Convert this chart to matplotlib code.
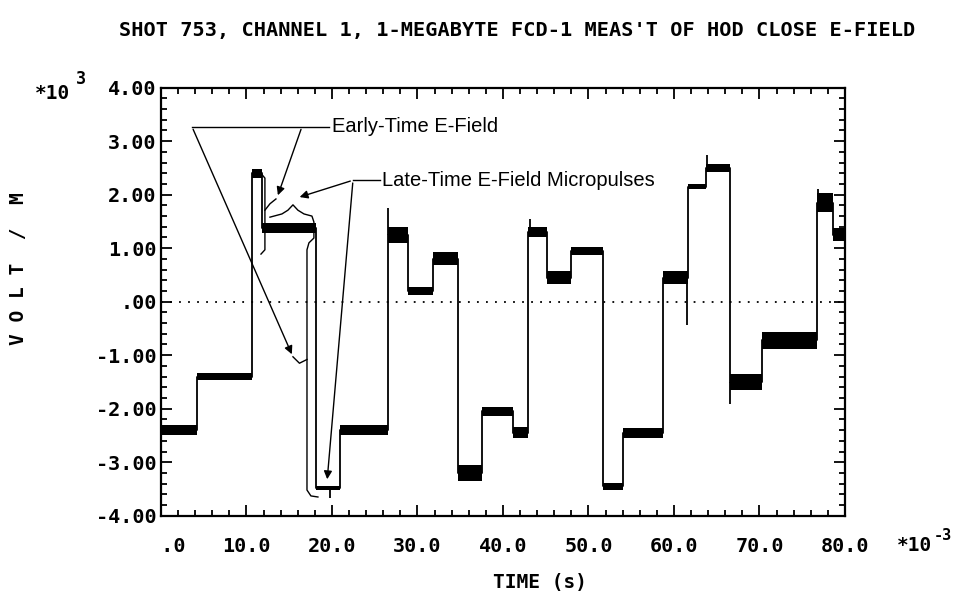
import numpy as np
import matplotlib
matplotlib.use("Agg")
import matplotlib.pyplot as plt

# step record: start time of each plateau (ms), its level (x10^3 V/m), half-width of the noise band
t_start = [0.0, 4.2, 10.6, 11.8, 18.1, 20.9, 26.5, 28.9, 31.8, 34.8, 37.5, 41.2,
           42.9, 45.1, 48.0, 51.7, 54.0, 58.7, 61.6, 63.8, 66.5, 70.3, 76.7, 78.6]
levels = [-2.40, -1.40, 2.40, 1.38, -3.48, -2.40, 1.25, 0.20, 0.80, -3.20, -2.05, -2.45,
          1.30, 0.45, 0.95, -3.45, -2.45, 0.45, 2.15, 2.50, -1.50, -0.72, 1.85, 1.25]
noise = [0.10, 0.07, 0.08, 0.09, 0.04, 0.10, 0.15, 0.08, 0.12, 0.15, 0.08, 0.10,
         0.10, 0.12, 0.08, 0.07, 0.09, 0.12, 0.05, 0.08, 0.15, 0.16, 0.18, 0.12]
t_end = 80.0

# isolated transients (ms, peak value)
spike_t = [19.8, 26.6, 43.2, 61.5, 63.9, 66.6, 76.9]
spike_v = [-3.67, 1.75, 1.55, -0.44, 2.75, -1.92, 2.10]

xticks = [0, 10, 20, 30, 40, 50, 60, 70, 80]
xlabels = ["  .0", "10.0", "20.0", "30.0", "40.0", "50.0", "60.0", "70.0", "80.0"]
yticks = [-4, -3, -2, -1, 0, 1, 2, 3, 4]
ylabels = ["-4.00", "-3.00", "-2.00", "-1.00", ".00", "1.00", "2.00", "3.00", "4.00"]

mono = "DejaVu Sans Mono"
plain_font = ["Liberation Sans", "DejaVu Sans"]

fig = plt.figure(figsize=(9.58, 5.96), dpi=100)
ax = fig.add_axes([0.168, 0.1347, 0.714, 0.7182])

edges = np.array(t_start + [t_end])
lev = np.array(levels + [levels[-1]])
nz = np.array(noise + [noise[-1]])

ax.fill_between(edges, lev - nz, lev + nz, step="post", color="black", lw=0)
ax.step(edges, lev, where="post", color="black", lw=1.3)

idx = np.searchsorted(t_start, spike_t, side="right") - 1
ax.vlines(spike_t, np.array(levels)[idx], spike_v, color="black", lw=1.3)

ax.axhline(0, color="black", lw=1.3, ls=(0, (1, 4)))

# hand-drawn annotation leaders
lk = dict(color="black", lw=1.0)
ap = dict(arrowstyle="-|>", color="black", lw=1.0, mutation_scale=12)
ax.plot([3.63, 19.65], [3.27, 3.27], **lk)
ax.annotate("", xy=(15.44, -1.03), xytext=(3.63, 3.27), arrowprops=ap)
ax.annotate("", xy=(13.57, 1.94), xytext=(16.49, 3.27), arrowprops=ap)
ax.plot([22.46, 25.61], [2.27, 2.27], **lk)
ax.annotate("", xy=(15.91, 1.94), xytext=(22.46, 2.27), arrowprops=ap)
ax.annotate("", xy=(19.42, -3.37), xytext=(22.46, 2.27), arrowprops=ap)

# outline round the early-time spike
ax.plot([11.58, 12.16, 12.16, 11.70], [2.42, 2.31, 0.97, 0.89], **lk)
ax.plot([12.16, 12.75, 13.45], [1.71, 1.83, 1.92], **lk)
# bracket round the late-time micropulse
ax.plot([12.75, 14.15, 14.85, 15.44, 16.02, 16.73, 17.66, 17.89, 17.89, 17.31,
         17.08, 17.08, 17.54, 18.36],
        [1.58, 1.64, 1.71, 1.81, 1.71, 1.64, 1.60, 1.49, 1.19, 1.10,
         0.97, -3.52, -3.63, -3.65], **lk)
ax.plot([15.44, 16.2, 17.08], [-1.03, -1.15, -1.08], **lk)

ax.text(20.0, 3.27, "Early-Time E-Field", family=plain_font, fontsize=14.5, va="center")
ax.text(25.9, 2.27, "Late-Time E-Field Micropulses", family=plain_font, fontsize=14.5,
        va="center")

ax.set_xlim(0, 80)
ax.set_ylim(-4, 4)
ax.set_xticks(xticks)
ax.set_xticklabels(xlabels)
ax.set_yticks(yticks)
ax.set_yticklabels(ylabels)
ax.set_xticks(np.arange(0, 81, 2), minor=True)
ax.set_yticks(np.arange(-4, 4.01, 0.2), minor=True)
ax.tick_params(which="both", direction="in", top=True, right=True, width=1.3)
ax.tick_params(which="major", length=8)
ax.tick_params(which="minor", length=4)
ax.tick_params(axis="x", pad=15)
ax.tick_params(axis="y", pad=3)
for lab in ax.get_xticklabels() + ax.get_yticklabels():
    lab.set_family(mono)
    lab.set_fontweight("bold")
    lab.set_fontsize(14.5)

for sp in ax.spines.values():
    sp.set_linewidth(1.6)

tk = dict(family=mono, fontweight="bold")
fig.text(0.54, 0.948, "SHOT 753, CHANNEL 1, 1-MEGABYTE FCD-1 MEAS'T OF HOD CLOSE E-FIELD",
         fontsize=14.6, ha="center", va="center", **tk)
fig.text(0.564, 0.022, "TIME (s)", fontsize=14, ha="center", va="center", **tk)
fig.text(0.019, 0.55, "V O L T  /  M", fontsize=14, rotation=90, ha="center", va="center",
         **tk)
fig.text(0.036, 0.843, "*10", fontsize=14, ha="left", va="center", **tk)
fig.text(0.079, 0.868, "3", fontsize=12, ha="left", va="center", **tk)
fig.text(0.936, 0.084, "*10", fontsize=14, ha="left", va="center", **tk)
fig.text(0.975, 0.102, "-3", fontsize=11, ha="left", va="center", **tk)

fig.savefig("out.png", dpi=100)
